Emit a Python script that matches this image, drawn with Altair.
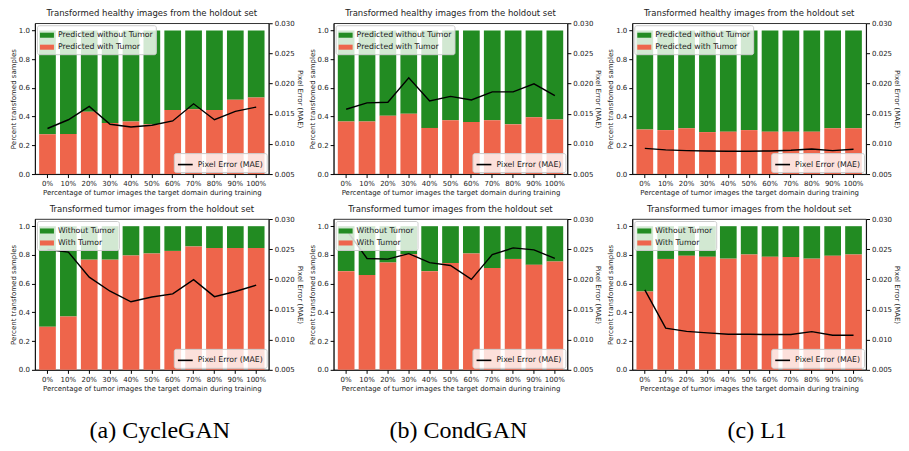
import altair as alt
import pandas as pd

pct_labels = ["0%", "10%", "20%", "30%", "40%", "50%", "60%", "70%", "80%", "90%", "100%"]

cyc_healthy_red = [0.277, 0.279, 0.433, 0.355, 0.366, 0.346, 0.446, 0.451, 0.446, 0.518, 0.533]
cyc_healthy_mae = [0.01255, 0.0140, 0.0162, 0.01325, 0.0128, 0.0131, 0.0138, 0.01665, 0.0140, 0.0154, 0.0161]
cond_healthy_red = [0.366, 0.366, 0.406, 0.420, 0.321, 0.375, 0.362, 0.375, 0.346, 0.395, 0.379]
cond_healthy_mae = [0.01574, 0.0168, 0.0169, 0.02096, 0.0171, 0.01787, 0.01729, 0.01862, 0.01862, 0.01995, 0.0180]
l1_healthy_red = [0.310, 0.306, 0.319, 0.292, 0.295, 0.306, 0.295, 0.295, 0.295, 0.319, 0.319]
l1_healthy_mae = [0.00926, 0.0090, 0.00888, 0.00883, 0.00878, 0.00878, 0.00883, 0.00894, 0.00915, 0.00888, 0.0091]

cyc_tumor_red = [0.300, 0.371, 0.767, 0.767, 0.796, 0.810, 0.828, 0.859, 0.848, 0.848, 0.848]
cyc_tumor_mae = [0.02495, 0.02452, 0.02037, 0.01803, 0.01628, 0.01707, 0.0176, 0.01995, 0.01713, 0.01798, 0.01904]
cond_tumor_red = [0.687, 0.660, 0.747, 0.805, 0.687, 0.743, 0.810, 0.709, 0.772, 0.731, 0.754]
cond_tumor_mae = [0.02825, 0.02346, 0.02335, 0.02426, 0.02277, 0.02229, 0.0200, 0.0241, 0.02521, 0.02489, 0.02346]
l1_tumor_red = [0.546, 0.772, 0.794, 0.787, 0.774, 0.803, 0.787, 0.785, 0.774, 0.794, 0.803]
l1_tumor_mae = [0.01824, 0.01192, 0.01138, 0.01112, 0.0109, 0.0109, 0.01085, 0.01085, 0.01133, 0.01074, 0.01074]

healthy_title = "Transformed healthy images from the holdout set"
tumor_title = "Transformed tumor images from the holdout set"
healthy_legend = ["Predicted without Tumor", "Predicted with Tumor"]
tumor_legend = ["Without Tumor", "With Tumor"]
line_legend = "Pixel Error (MAE)"
captions = ["(a) CycleGAN", "(b) CondGAN", "(c) L1"]

GREEN = "#228B22"
RED = "#EE654B"
FONT = "DejaVu Sans"
W, H = 234, 151


def panel(title, red, mae, legend_names):
    rows = []
    for p, r in zip(pct_labels, red):
        rows.append({"pct": p, "cat": legend_names[0], "lo": r, "hi": 1.0})
        rows.append({"pct": p, "cat": legend_names[1], "lo": 0.0, "hi": r})
    bar_df = pd.DataFrame(rows)
    line_df = pd.DataFrame({"pct": pct_labels, "mae": mae, "name": [line_legend] * len(mae)})

    x = alt.X(
        "pct:N",
        sort=pct_labels,
        scale=alt.Scale(paddingInner=0.2, paddingOuter=0.2),
        axis=alt.Axis(
            title="Percentage of tumor images the target domain during training",
            labelAngle=0,
            labelOverlap=False,
        ),
    )
    bars = alt.Chart(bar_df).mark_bar().encode(
        x=x,
        y=alt.Y(
            "lo:Q",
            scale=alt.Scale(domain=[0, 1.05], nice=False, zero=True),
            axis=alt.Axis(
                title="Percent transfomed samples",
                values=[0, 0.2, 0.4, 0.6, 0.8, 1.0],
                format=".1f",
                orient="left",
            ),
        ),
        y2="hi:Q",
        fill=alt.Fill(
            "cat:N",
            scale=alt.Scale(domain=legend_names, range=[GREEN, RED]),
            legend=alt.Legend(
                orient="top-left",
                title=None,
                symbolType="M-1,-0.36L1,-0.36L1,0.36L-1,0.36Z",
                symbolSize=196,
                symbolStrokeWidth=0,
                fillColor="rgba(255,255,255,0.8)",
                strokeColor="#cccccc",
                padding=3,
                offset=2,
                rowPadding=1,
                labelFontSize=7.8,
                cornerRadius=2,
            ),
        ),
    )
    line = alt.Chart(line_df).mark_line(strokeWidth=1.4).encode(
        x=alt.X("pct:N", sort=pct_labels),
        y=alt.Y(
            "mae:Q",
            scale=alt.Scale(domain=[0.005, 0.030], nice=False, zero=False),
            axis=alt.Axis(
                title="Pixel Error (MAE)",
                values=[0.005, 0.010, 0.015, 0.020, 0.025, 0.030],
                format=".3f",
                orient="right",
            ),
        ),
        stroke=alt.Stroke(
            "name:N",
            scale=alt.Scale(domain=[line_legend], range=["black"]),
            legend=alt.Legend(
                orient="bottom-right",
                title=None,
                symbolType="stroke",
                symbolStrokeWidth=1.6,
                symbolSize=220,
                fillColor="rgba(255,255,255,0.8)",
                strokeColor="#cccccc",
                padding=3,
                offset=2,
                labelFontSize=7.8,
                cornerRadius=2,
            ),
        ),
    )
    return (
        alt.layer(bars, line)
        .resolve_scale(y="independent", fill="independent", stroke="independent")
        .resolve_legend(fill="independent", stroke="independent")
        .properties(title=title, width=W, height=H)
    )


def caption(text):
    return (
        alt.Chart(pd.DataFrame({"t": [text]}))
        .mark_text(font="Liberation Serif", fontSize=24, baseline="middle", align="center", color="black")
        .encode(text="t:N", x=alt.value(W / 2 + 8), y=alt.value(30))
        .properties(width=W, height=34, view=alt.ViewBackground(stroke="transparent"))
    )


charts = [
    panel(healthy_title, cyc_healthy_red, cyc_healthy_mae, healthy_legend),
    panel(healthy_title, cond_healthy_red, cond_healthy_mae, healthy_legend),
    panel(healthy_title, l1_healthy_red, l1_healthy_mae, healthy_legend),
    panel(tumor_title, cyc_tumor_red, cyc_tumor_mae, tumor_legend),
    panel(tumor_title, cond_tumor_red, cond_tumor_mae, tumor_legend),
    panel(tumor_title, l1_tumor_red, l1_tumor_mae, tumor_legend),
    caption(captions[0]),
    caption(captions[1]),
    caption(captions[2]),
]

chart = (
    alt.concat(*charts, columns=3, spacing={"row": 8, "column": 3})
    .resolve_scale(fill="independent", stroke="independent", x="independent", y="independent")
    .resolve_legend(fill="independent", stroke="independent")
    .properties(padding={"left": 0, "top": 0, "right": 0, "bottom": 0})
    .configure(font=FONT)
    .configure_view(stroke="black", strokeWidth=0.8)
    .configure_axis(
        labelFont=FONT,
        titleFont=FONT,
        labelFontSize=7,
        titleFontSize=7,
        titleFontWeight="normal",
        labelColor="#222222",
        titleColor="#222222",
        tickSize=3.5,
        tickColor="black",
        domainColor="black",
        domainWidth=0.8,
        grid=False,
        labelPadding=2,
        titlePadding=2,
    )
    .configure_title(font=FONT, fontSize=8.5, fontWeight="normal", color="#222222", offset=2)
    .configure_legend(labelFont=FONT, labelColor="#222222")
)

chart.save("out.html", embed_options={"renderer": "svg", "actions": False})
